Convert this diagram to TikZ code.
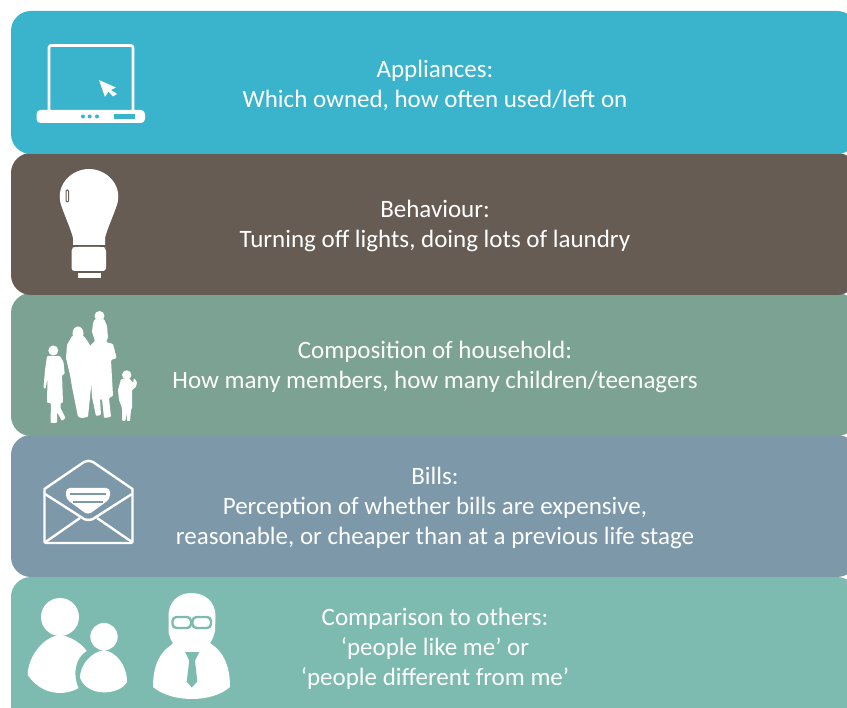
\documentclass[tikz,border=0pt]{standalone}
\usepackage{fontspec}
\setmainfont{Carlito}
\definecolor{cA}{HTML}{3AB3CD}
\definecolor{cB}{HTML}{665C53}
\definecolor{cC}{HTML}{7BA293}
\definecolor{cD}{HTML}{7C98A9}
\definecolor{cE}{HTML}{7DBBB0}
\tikzset{
  bar/.style={fill=#1,draw=none,rounded corners=20pt},
  label/.style={text=white,font=\fontsize{25}{30}\selectfont,align=center,inner sep=0pt},
  ico/.style={draw=white,line width=2.4pt,line join=round,fill=none},
  icf/.style={fill=white,draw=none},
  fam/.style={fill=white,draw=none,rounded corners=1pt}
}
\begin{document}
\begin{tikzpicture}[x=1pt,y=-1pt]
\useasboundingbox (0,0) rectangle (847,708);
\fill[white] (0,0) rectangle (847,708);
% bars, lowest first so upper ones overlap
\path[bar=cE] (11,577) rectangle (857,728);
\path[bar=cD] (11,435) rectangle (857,577);
\path[bar=cC] (11,293) rectangle (857,436);
\path[bar=cB] (11,153) rectangle (857,295);
\path[bar=cA] (11,11) rectangle (857,154);
% texts
\node[label] (t1) at (435,85) {Appliances:\\Which owned, how often used/left on};
\node[label] (t2) at (435,226) {Behaviour:\\Turning off lights, doing lots of laundry};
\node[label] (t3) at (435,367) {Composition of household:\\How many members, how many children/teenagers};
\node[label] (t4) at (435,508) {Bills:\\Perception of whether bills are expensive,\\reasonable, or cheaper than at a previous life stage};
\node[label] (t5) at (435,649) {Comparison to others:\\‘people like me’ or\\‘people different from me’};
% laptop
\draw[ico,line width=2.6pt,rounded corners=1.5pt] (49,111) -- (49,45.5) -- (133,45.5) -- (133,111);
\path[icf,rounded corners=4pt] (36.5,110) rectangle (145,123);
\fill[cA] (83,116.5) circle (2) (89.7,116.5) circle (2) (97,116.5) circle (2);
\fill[cA] (114,114) rectangle (135,119);
\path[icf] (99,80) -- (116,87.5) -- (111,90) -- (117,94) -- (113,96.5) -- (108.5,91.5) -- (105,97) -- cycle;
% bulb
\path[icf] (73,245) -- (73,238) .. controls (71,229) and (63,212) .. (60.5,203)
  .. controls (56,184) and (72,169) .. (89,169)
  .. controls (106,169) and (122,184) .. (117.5,203)
  .. controls (115,212) and (107,229) .. (105,238) -- (105,245) -- cycle;
\path[icf,rounded corners=3pt] (71.5,248) -- (75,247) -- (103,247) -- (106,248) -- (106,271) -- (71.5,271) -- cycle;
\path[icf] (77.5,273) rectangle (101,278);
\draw[cB,line width=1pt,rounded corners=1.2pt,fill=white] (66,190) rectangle (68.7,202);
% family
\begin{scope}[shift={(0,290)}]
\path[icf] (53.3,60.5) circle (5);
\path[fam] (47,66) -- (60,66) -- (63.5,72) -- (64.7,84) -- (62,85) -- (63,113) -- (60.5,113)
 -- (60.5,118) -- (65.5,128) -- (62,131) -- (57,122) -- (57,133) -- (50.5,133) -- (51,113) -- (47,113)
 -- (47.5,88) -- (45.5,99) -- (43.5,98) -- (45,80) -- cycle;
\path[icf] (78,43.5) ellipse (5.5 and 7);
\path[fam] (72,46) -- (84,46) -- (90,55) -- (91,70) -- (91,97) -- (88,127) -- (82,128) -- (78,127) -- (72,97) -- (70,85) -- (66,68) -- (67,55) -- cycle;
\path[icf] (99.5,26) circle (5);
\path[fam] (95,29) -- (104,29) -- (107,36) -- (108,48) -- (106,52) -- (113,54) -- (116.7,68) -- (111,70) -- (113,106) -- (109,108) -- (111,127) -- (104,128) -- (102,109) -- (100,109) -- (101,125) -- (96,126) -- (92,107) -- (90,75) -- (89,57) -- (95,51) -- (92,42) -- (93,33) -- cycle;
\path[icf] (126.7,85) circle (4.7);
\path[fam] (121,89) -- (130,89) -- (133,93) -- (134,88) -- (137,92) -- (136,97) -- (132,100) -- (132,118) -- (131,120) -- (130,131) -- (127,131) -- (126.5,122) -- (125.5,131) -- (122,131) -- (122,118) -- (119,110) -- (118,100) -- cycle;
\end{scope}
% envelope
\begin{scope}[shift={(0,290)}]
\draw[ico] (44.5,199) -- (84,172) .. controls (87,170.3) and (90,170.3) .. (93,172) -- (132.5,199) -- (132.5,252) -- (131,253) -- (46,253) -- (44.5,252) -- cycle;
\draw[ico] (45.5,252) -- (80,228);
\draw[ico] (132,252) -- (97,228);
\draw[ico] (45,204) -- (81,227) .. controls (85,231) and (92,231) .. (96,227) -- (132,204);
\path[icf,rounded corners=4pt] (66,198) -- (110,198) -- (110,209) -- (88,225) -- (66,209) -- cycle;
\draw[cD,line width=1.2pt] (70,204) -- (106,204) (73,212) -- (103,212);
\end{scope}
% people
\begin{scope}[shift={(0,560)}]
\path[icf] (60,57) circle (19);
\path[icf] (27.7,115) .. controls (28,95) and (45,76) .. (60,75) .. controls (70,76) and (81,83) .. (86.7,91)
 .. controls (76,97) and (72,113) .. (78.5,128) .. controls (65,136) and (42,136) .. (27.7,115) -- cycle;
\path[icf] (104,76.7) circle (13.7);
\path[icf] (80,118) .. controls (80,104) and (92,92) .. (104,90) .. controls (116,92) and (127,105) .. (127,122) .. controls (120,135) and (88,138) .. (80,118) -- cycle;
\path[icf] (168.5,57) .. controls (168,42) and (178,33) .. (191.5,33) .. controls (205,33) and (216,42) .. (215.5,57) -- (215,71) .. controls (214,75) and (213,79) .. (210,83) -- (214,86)
 .. controls (222,92) and (230,104) .. (230,127) .. controls (212,143) and (172,143) .. (153,127)
 .. controls (153,104) and (161,92) .. (170,86) -- (173,83) .. controls (170,79) and (169,75) .. (168.5,71) -- cycle;
\draw[cE,line width=2.4pt,fill=white,rounded corners=4pt] (172.5,57) rectangle (191,68);
\draw[cE,line width=2.4pt,fill=white,rounded corners=4pt] (192.5,57) rectangle (211,68);
\path[fill=cE] (185,92) -- (199.3,92) -- (195,100.5) -- (197.3,121.5) -- (191.7,127.5) -- (186.7,121.5) -- (189.3,100.5) -- cycle;
\end{scope}
\end{tikzpicture}
\end{document}
